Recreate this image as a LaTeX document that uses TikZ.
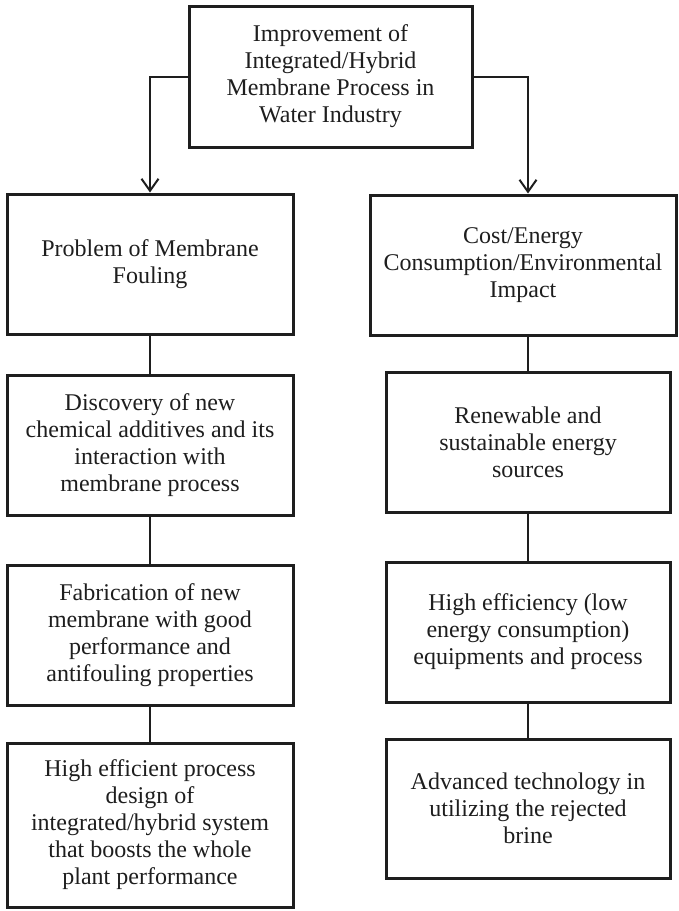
\documentclass[tikz,border=0pt]{standalone}
\usepackage{fontspec}
\setmainfont{Liberation Serif}
\usetikzlibrary{arrows.meta}
\definecolor{ink}{HTML}{1E1E1E}
\begin{document}
\begin{tikzpicture}[x=1pt,y=-1pt,
  boxnode/.style={draw=ink, line width=3pt, fill=white, align=center, inner sep=0pt,
    text=ink, font=\fontsize{24}{27}\selectfont},
  conn/.style={draw=ink, line width=2pt},
  arr/.style={draw=ink, line width=2pt, -{Straight Barb[length=12pt,width=17pt,line width=2pt]}}]
\useasboundingbox (0,0) rectangle (679,911);
% top
\node[boxnode, minimum width=283pt, minimum height=141pt] (top) at (330.5,76.5)
  {Improvement of\\Integrated/Hybrid\\Membrane Process in\\Water Industry};
% left column
\node[boxnode, minimum width=286pt, minimum height=140pt] (l1) at (150,264)
  {Problem of Membrane\\Fouling};
\node[boxnode, minimum width=286pt, minimum height=140pt] (l2) at (150,445)
  {Discovery of new\\chemical additives and its\\interaction with\\membrane process};
\node[boxnode, minimum width=286pt, minimum height=140pt] (l3) at (150,635)
  {Fabrication of new\\membrane with good\\performance and\\antifouling properties};
\node[boxnode, minimum width=286pt, minimum height=164pt] (l4) at (150,825)
  {High efficient process\\design of\\integrated/hybrid system\\that boosts the whole\\plant performance};
% right column
\node[boxnode, minimum width=306pt, minimum height=140pt] (r1) at (523,265)
  {Cost/Energy\\Consumption/Environmental\\Impact};
\node[boxnode, minimum width=284pt, minimum height=140pt] (r2) at (528,442.5)
  {Renewable and\\sustainable energy\\sources};
\node[boxnode, minimum width=284pt, minimum height=140pt] (r3) at (528,632)
  {High efficiency (low\\energy consumption)\\equipments and process};
\node[boxnode, minimum width=284pt, minimum height=139pt] (r4) at (528,808.5)
  {Advanced technology in\\utilizing the rejected\\brine};
% arrows from top
\draw[arr] (top.west) -| (l1.north);
\draw[arr] (top.east) -| (r2.north |- r1.north);
% connectors
\draw[conn] (l1.south) -- (l2.north);
\draw[conn] (l2.south) -- (l3.north);
\draw[conn] (l3.south) -- (l4.north);
\draw[conn] (r2.north |- r1.south) -- (r2.north);
\draw[conn] (r2.south) -- (r3.north);
\draw[conn] (r3.south) -- (r4.north);
\end{tikzpicture}
\end{document}
